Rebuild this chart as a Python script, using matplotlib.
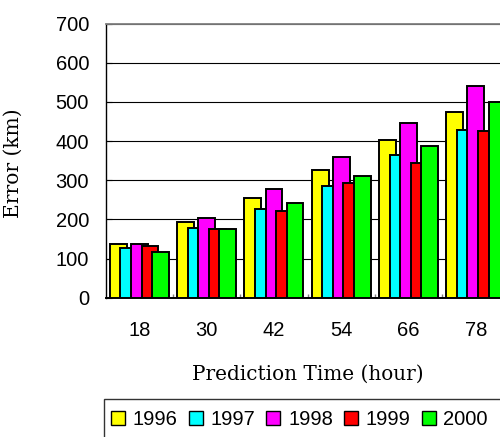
import numpy as np
import matplotlib
matplotlib.use('Agg')
import matplotlib.pyplot as plt
from matplotlib.patches import Patch, Rectangle

# Forecast error per prediction time, one series per year
hours = ['18', '30', '42', '54', '66', '78']
years = ['1996', '1997', '1998', '1999', '2000']
err_1996 = [138, 194, 255, 327, 404, 475]
err_1997 = [128, 179, 226, 286, 364, 429]
err_1998 = [138, 204, 277, 359, 445, 542]
err_1999 = [133, 175, 221, 292, 343, 425]
err_2000 = [117, 175, 241, 312, 388, 501]
series = [err_1996, err_1997, err_1998, err_1999, err_2000]
colors = ['#ffff00', '#00ffff', '#ff00ff', '#ff0000', '#00ff00']

plt.rcParams['font.family'] = ['Liberation Sans', 'DejaVu Sans']

fig = plt.figure(figsize=(5.0, 4.37), dpi=100)
# axes run a bit past the right edge, as in the original
ax = fig.add_axes([0.2114, 0.3188, 0.8076, 0.627])

x = np.arange(len(hours))
step = 0.157
width = 0.25
for i, (vals, col) in enumerate(zip(series, colors)):
    ax.bar(x + (i - 2) * step, vals, width, color=col,
           edgecolor='black', linewidth=1.4, zorder=3)

ax.set_xlim(-0.5, len(hours) - 0.5)
ax.set_ylim(0, 700)
ax.set_yticks(np.arange(0, 701, 100))
ax.set_xticks(x)
ax.set_xticklabels(hours)
ax.set_xticks(np.arange(0.5, len(hours) - 0.5, 1), minor=True)

ax.grid(axis='y', color='black', linewidth=0.8, zorder=0)
ax.set_axisbelow(True)

ax.tick_params(axis='y', direction='in', length=4, pad=12, labelsize=14.5)
ax.tick_params(axis='x', which='major', length=0, pad=17, labelsize=14.5)
ax.tick_params(axis='x', which='minor', direction='in', length=3,
               color='gray', width=1)

ax.spines['top'].set_color('gray')
ax.spines['top'].set_linewidth(1.3)
ax.spines['right'].set_visible(False)
ax.spines['left'].set_linewidth(1.0)
ax.spines['bottom'].set_linewidth(1.4)

ax.set_ylabel('Error (km)', family='DejaVu Serif', fontsize=14.5)
ax.yaxis.set_label_coords(-0.205, 0.49)
ax.set_xlabel('Prediction Time (hour)', family='DejaVu Serif', fontsize=14.4)
ax.xaxis.set_label_coords(0.5, -0.278)
ax.xaxis.label.set_va('center')

# legend along the bottom, its box runs off the figure edge
handles = [Patch(facecolor=c, edgecolor='black', linewidth=1.0) for c in colors]
fig.legend(handles, years, loc='upper left', ncol=5,
           bbox_to_anchor=(111.0 / 500, 1 - 410.0 / 437), borderaxespad=0,
           frameon=False, fontsize=14.5, handlelength=0.7, handleheight=0.7,
           handletextpad=0.38, columnspacing=0.55, borderpad=0)
fig.patches.append(Rectangle((104.0 / 500, -0.05), 1.0, 0.05 + (437 - 399.3) / 437,
                             transform=fig.transFigure, fill=False,
                             edgecolor='#333333', linewidth=1.0))

fig.savefig('out.png', dpi=100)
